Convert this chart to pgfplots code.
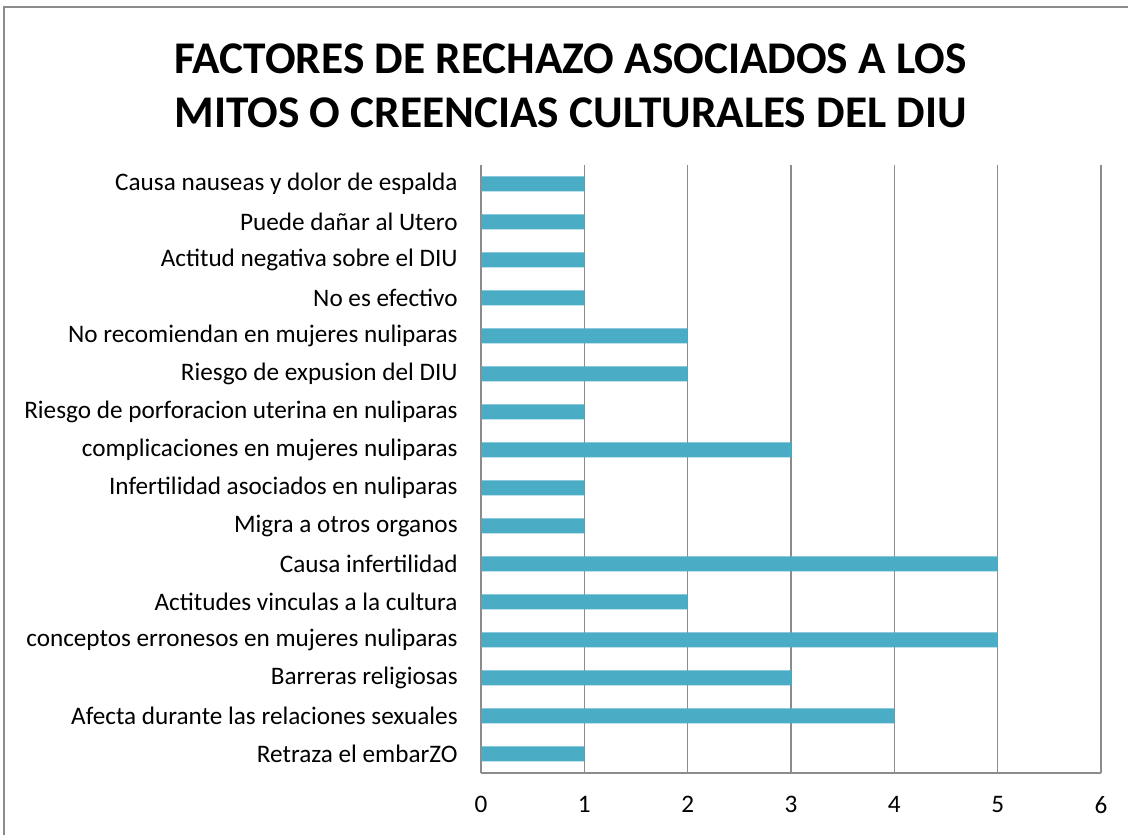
\documentclass[border=0pt]{standalone}
\usepackage{fontspec}
\setmainfont{Carlito}
\usepackage{pgfplots}
\pgfplotsset{compat=1.18}
\definecolor{barc}{HTML}{4BACC6}
\definecolor{gridc}{HTML}{8C8C8C}
\begin{document}
\begin{tikzpicture}
\clip (0,0) rectangle (846pt,626.25pt);
\draw[gridc, line width=1pt] (3pt,-20pt) rectangle (880pt,621pt);
\node[font=\bfseries\fontsize{34}{40}\selectfont, align=center] at (428pt,562pt) {FACTORES DE RECHAZO ASOCIADOS A LOS\\MITOS O CREENCIAS CULTURALES DEL DIU};
\begin{axis}[
  at={(360.75pt,46.5pt)}, anchor=south west,
  scale only axis, width=465pt, height=456pt,
  xbar, bar width=11.25pt,
  xmin=0, xmax=6, ymin=-0.5, ymax=15.5,
  xtick={0,...,6},
  ytick={0,...,15},
  yticklabels={Retraza el embarZO,Afecta durante las relaciones sexuales,Barreras religiosas,conceptos erronesos en mujeres nuliparas,Actitudes vinculas a la cultura,Causa infertilidad,Migra a otros organos,Infertilidad asociados en nuliparas,complicaciones en mujeres nuliparas,Riesgo de porforacion uterina en nuliparas,Riesgo de expusion del DIU,No recomiendan en mujeres nuliparas,No es efectivo,Actitud negativa sobre el DIU,Puede dañar al Utero,Causa nauseas y dolor de espalda},
  /pgf/number format/assume math mode=true,
  ticklabel style={font=\fontsize{18.9}{22}\selectfont},
  xticklabel style={yshift=-14pt},
  yticklabel style={xshift=-14pt},
  major tick length=0pt,
  xmajorgrids, grid style={gridc, line width=1pt},
  axis x line*=bottom, axis y line*=left,
  x axis line style={gridc, line width=1pt, -},
  y axis line style={gridc, line width=1pt, -},
]
\addplot[fill=barc, draw=none] coordinates {
(1,0) (4,1) (3,2) (5,3) (2,4) (5,5) (1,6) (1,7) (3,8) (1,9) (2,10) (2,11) (1,12) (1,13) (1,14) (1,15)
};
\end{axis}
\end{tikzpicture}
\end{document}
